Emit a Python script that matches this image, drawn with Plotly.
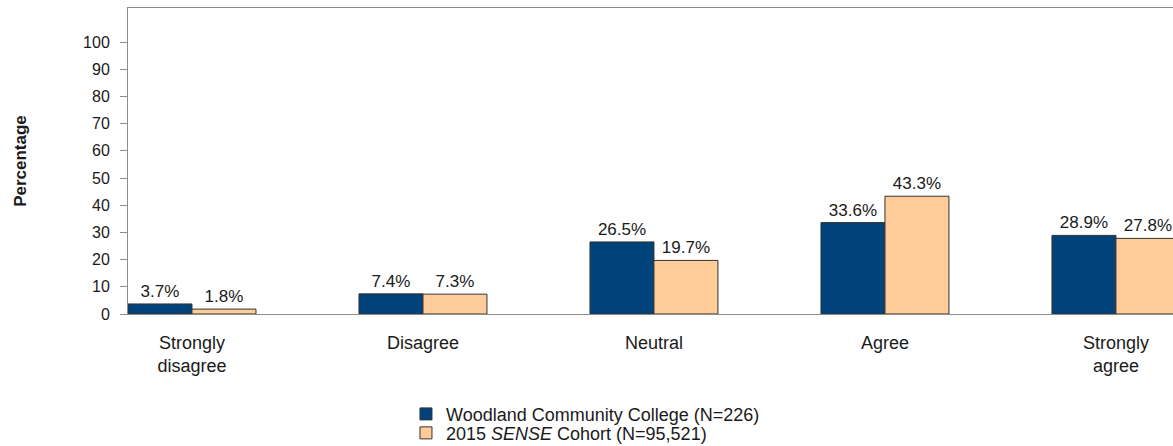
import plotly.graph_objects as go

categories = ["Strongly<br>disagree", "Disagree", "Neutral", "Agree", "Strongly<br>agree"]
college_values = [3.7, 7.4, 26.5, 33.6, 28.9]
cohort_values = [1.8, 7.3, 19.7, 43.3, 27.8]
college_name = "Woodland Community College (N=226)"
cohort_name = "2015 <i>SENSE</i> Cohort (N=95,521)"
y_ticks = list(range(0, 101, 10))

FONT = "Liberation Sans, Arial, sans-serif"
AXIS_GRAY = "#8c8c8c"

fig = go.Figure()
# each series gets its own legend box so the two rows can sit closer together
for name, vals, color, legend_id in [
    (college_name, college_values, "#00427a", "legend"),
    (cohort_name, cohort_values, "#ffcc99", "legend2"),
]:
    fig.add_trace(go.Bar(
        x = list(range(len(categories))),
        y = vals,
        name = name,
        legend = legend_id,
        marker_color = color,
        marker_line_color = "#333333",
        marker_line_width = 1,
        text = [f"{v:.1f}%" for v in vals],
        textposition = "outside",
        textfont = dict(size = 17, color = "#1a1a1a", family = FONT),
        cliponaxis = False,
    ))

legend_style = dict(
    orientation = "v",
    x = 0.266, xanchor = "left",
    yanchor = "top",
    font = dict(size = 18),
    itemclick = False,
    bgcolor = "rgba(0,0,0,0)",
)

fig.update_layout(
    width = 1173,
    height = 446,
    margin = dict(l = 128, r = 0, t = 8, b = 132, autoexpand = False),
    barmode = "group",
    bargap = 0.446,
    bargroupgap = 0,
    plot_bgcolor = "white",
    paper_bgcolor = "white",
    font = dict(family = FONT, size = 16, color = "#1a1a1a"),
    showlegend = True,
    legend = dict(legend_style, y = -0.267),
    legend2 = dict(legend_style, y = -0.329),
    xaxis = dict(
        tickmode = "array",
        tickvals = list(range(len(categories))),
        ticktext = categories,
        range = [-0.277, 4.247],
        showline = True,
        linecolor = AXIS_GRAY,
        linewidth = 1,
        mirror = True,
        ticks = "",
        showgrid = False,
        automargin = False,
        ticklabelstandoff = 12,
        tickfont = dict(size = 18),
    ),
    yaxis = dict(
        range = [0, 112.5],
        tickmode = "array",
        tickvals = y_ticks,
        showline = True,
        linecolor = AXIS_GRAY,
        linewidth = 1,
        ticks = "outside",
        ticklen = 7,
        tickcolor = AXIS_GRAY,
        showgrid = False,
        zeroline = False,
        automargin = False,
        ticklabelstandoff = 7,
        tickfont = dict(size = 16),
        title = dict(text = "<b>Percentage</b>", font = dict(size = 17), standoff = 52),
    ),
)

# drop the default body margin so the figure fills the window exactly
fig.write_html(
    "out.html",
    config = {"displayModeBar": False},
    post_script = "document.body.style.margin = '0';",
)
